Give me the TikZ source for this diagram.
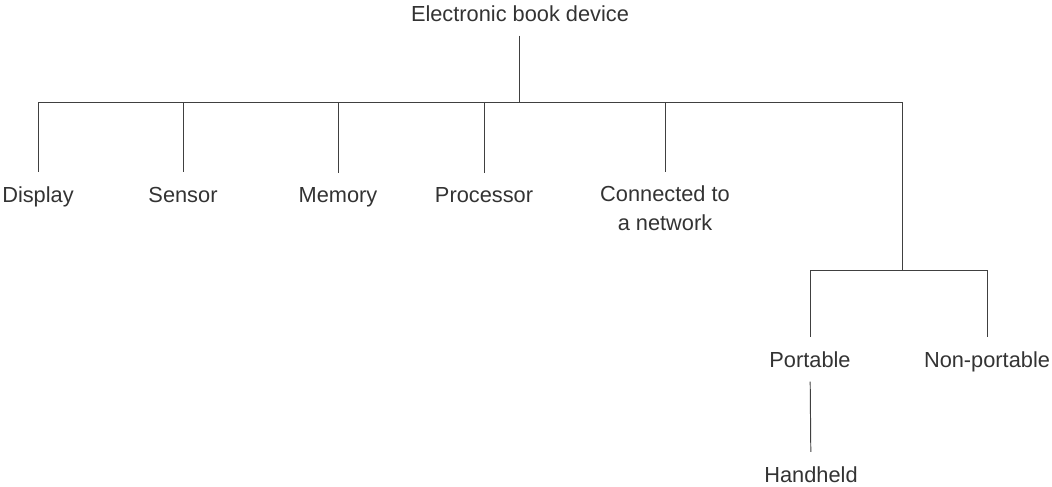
\documentclass[tikz,border=0pt]{standalone}
\usepackage{fontspec}
\setmainfont{Liberation Sans}
\usepackage{tikz}
\tikzstyle{lbl}=[anchor=base, inner xsep=2pt, inner ysep=8pt, text=black!80, font=\fontsize{12.4}{16}\selectfont, align=center]
\tikzstyle{tline}=[draw=black!75, line width=0.55pt]

\begin{document}
\begin{tikzpicture}[x=0.02cm, y=-0.02cm]
\useasboundingbox (0,0) rectangle (1052,487);

\node[lbl] (root) at (520,21) {Electronic book device};
\coordinate (rootj) at (519,102);

\node[lbl] (disp) at (38,202) {Display};
\node[lbl] (sens) at (183,202) {Sensor};
\node[lbl] (mem) at (338,202) {Memory};
\node[lbl] (proc) at (484,202) {Processor};
\node[lbl] (net) at (665,230) {Connected to\\a network};
\coordinate (subj) at (902,270);

\node[lbl] (port) at (810,367) {Portable};
\node[lbl] (nport) at (987,367) {Non-portable};
\node[lbl] (hand) at (811,482) {Handheld};

\draw[tline] (root.south -| rootj) -- (rootj);
\draw[tline] (rootj) -| (disp);
\draw[tline] (rootj) -| (sens);
\draw[tline] (rootj) -| (mem);
\draw[tline] (rootj) -| (proc);
\draw[tline] (rootj) -| (net);
\draw[tline] (rootj) -| (subj);
\draw[tline] (subj) -| (port);
\draw[tline] (subj) -| (nport);
\draw[tline] (port) -- (hand);

\end{tikzpicture}
\end{document}
